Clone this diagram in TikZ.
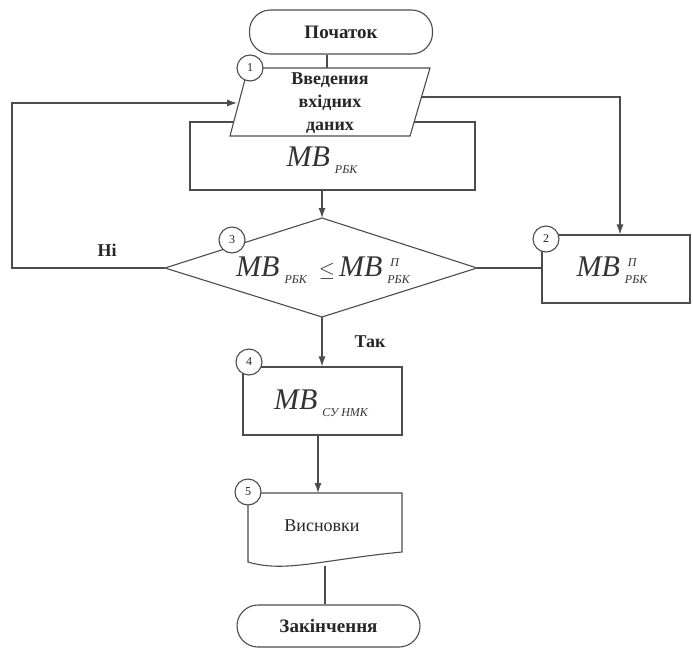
\documentclass[tikz,border=0pt]{standalone}
\usepackage{fontspec}
\setmainfont{Liberation Serif}
\usetikzlibrary{arrows.meta}
\newcommand{\mbbig}{{\fontsize{30}{30}\selectfont\itshape MB}}
\newcommand{\mbsub}[1]{\hspace{5pt}\raisebox{-7pt}{\fontsize{12}{12}\selectfont\itshape #1}}
\newcommand{\mbsubsup}[2]{\hspace{5pt}\raisebox{-7pt}{\fontsize{12}{12}\selectfont\itshape\rlap{\raisebox{17pt}{\hspace{3pt}#2}}#1}}
\begin{document}
\begin{tikzpicture}[x=1pt,y=-1pt,
  ln/.style={draw=black!70, line width=1.1pt},
  arr/.style={ln, -{Latex[length=10pt,width=7pt]}},
  term/.style={ln, fill=white, rounded corners=21pt, minimum width=183pt, minimum height=44pt, inner sep=0pt,
    font=\fontsize{19}{19}\selectfont\bfseries, text=black!85},
  boxs/.style={ln, rectangle, fill=white, inner sep=0pt},
  num/.style={ln, circle, fill=white, minimum size=26pt, inner sep=0pt, font=\fontsize{12}{12}\selectfont, text=black!85},
  lbl/.style={font=\fontsize{18}{18}\selectfont\bfseries, text=black!85, inner sep=0pt},
  mtext/.style={inner sep=0pt, text=black!80}]
\useasboundingbox (0,0) rectangle (693,648);
% terminals
\node[term] (start) at (341,32) {Початок};
% block MB_RBK (behind parallelogram)
\node[boxs, minimum width=285pt, minimum height=68pt] (mb) at (332.5,156) {};
\node[mtext] (mbt) at (322,160) {\mbbig\mbsub{РБК}};
% parallelogram
\draw[ln, fill=white] (248,68) -- (430,68) -- (410,136) -- (230,136) -- cycle;
\coordinate (pin) at (327,68);
\coordinate (pleft) at (237,103);
\coordinate (pright) at (421.5,97);
\node[align=center, font=\fontsize{18}{23}\selectfont\bfseries, text=black!85, inner sep=0pt] (inp) at (330,103) {Введения\\вхідних\\даних};
% diamond
\coordinate (dt) at (322,218);
\coordinate (dl) at (165,268);
\coordinate (dr) at (477,268);
\coordinate (db) at (322,317);
\draw[ln, fill=white] (dt) -- (dr) -- (db) -- (dl) -- cycle;
\node[mtext] (dtx) at (323,270) {\mbbig\mbsub{РБК}\hspace{12pt}{\fontsize{22}{22}\selectfont$\le$}\hspace{4pt}\mbbig\mbsubsup{РБК}{П}\hspace{6pt}};
% block 2
\node[boxs, minimum width=148pt, minimum height=68pt] (b2) at (616,269) {};
\node[mtext] (b2t) at (612,270) {\mbbig\mbsubsup{РБК}{П}};
% block 4
\node[boxs, minimum width=159pt, minimum height=68pt] (b4) at (322.5,401) {};
\node[mtext] (b4t) at (321,403) {\mbbig\mbsub{СУ НМК}};
% document
\draw[ln, fill=white] (248,493) -- (402,493) -- (402,552) .. controls (320,560) and (285,573) .. (248,562) -- cycle;
\coordinate (doctop) at (318,493);
\coordinate (docb) at (325,566);
\node[font=\fontsize{18}{18}\selectfont, text=black!85, inner sep=0pt] (vis) at (322,526) {Висновки};
\node[term, minimum height=42pt] (end) at (328.5,626) {Закінчення};
% connectors
\draw[ln] (start.south -| pin) -- (pin);
\draw[arr] (dl) -- (12,268) |- (pleft);
\draw[arr] (pright) -- (620,97) -- (b2.north -| 620,0);
\draw[arr] (mb.south -| dt) -- (dt);
\draw[ln] (dr) -- (b2.west |- dr);
\draw[arr] (db) -- (b4.north -| db);
\draw[arr] (b4.south -| doctop) -- (doctop);
\draw[ln] (docb) -- (end.north -| docb);
% labels
\node[lbl] (ni) at (107,250) {Ні};
\node[lbl] (tak) at (370,342) {Так};
% numbers
\node[num] (n1) at (250,68) {1};
\node[num] (n2) at (546,239) {2};
\node[num] (n3) at (232,240) {3};
\node[num] (n4) at (249,362) {4};
\node[num] (n5) at (248,492) {5};
\end{tikzpicture}
\end{document}
